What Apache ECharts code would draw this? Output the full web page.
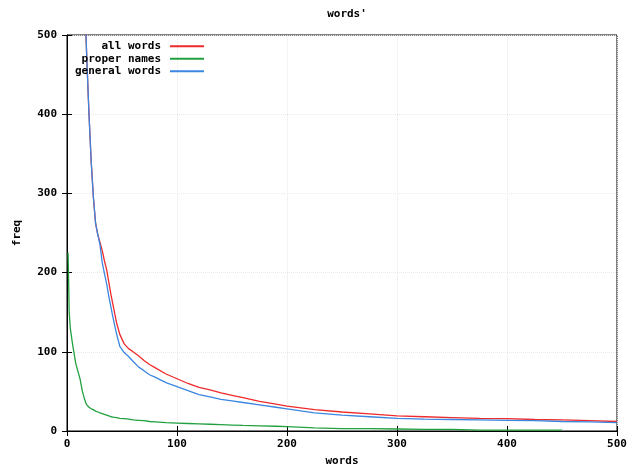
<!DOCTYPE html>
<html>
<head>
<meta charset="utf-8">
<script src="https://cdn.jsdelivr.net/npm/echarts@6/dist/echarts.min.js"></script>
<style>html,body{margin:0;padding:0;background:#fff;}#c{width:632px;height:472px;}</style>
</head>
<body>
<div id="c"></div>
<script>
const ranks = [1,2,3,5,8,10,12,14,16,17,18,20,22,24,26,28,30,32,34,36,38,40,42,45,48,52,56,60,65,70,75,80,90,100,110,120,130,140,150,160,175,190,200,225,250,275,300,325,350,375,400,425,450,475,500];
const allWords = [3000,2000,1500,1100,850,750,680,610,540,510,470,400,340,295,262,248,238,228,215,204,188,172,158,137,122,110,104,100,95,89,84,80,72,66,60,55,52,48,45,42,37.5,34,31.5,27,24,21.5,19,18,17,16,15.5,14.5,14,13,12];
const properNames = [225,150,130,110,85,75,65,50,40,36,33,30,28,27,25,24,23,22,21,20,19,18,17.5,17,16,15.5,15,14,13.5,13,12,11.5,10.5,10,9.5,9,8.5,8,7.5,7,6.5,6,5.5,4,3,3,2.5,2,2,1,1,1,1,null,null];
const generalWords = [3000,2000,1500,1100,850,750,680,610,540,510,470,400,340,295,262,248,235,213,199,186,170,156,142,123,107,99,94,88,81,76,71,68,61,56,51,46,43,40,38,36,33,30,28,23,20,18,16,15,14.5,14,13.5,13,12,11.5,10.5];
const xTicks = [0,100,200,300,400,500];
const yTicks = [0,100,200,300,400,500];
const seriesNames = ['all words','proper names','general words'];

const pairs = vals => ranks.map((r,i)=>[r, vals[i]]);
const font = 'DejaVu Sans Mono';
const chart = echarts.init(document.getElementById('c'));
chart.setOption({
  animation:false,
  backgroundColor:'#fff',
  title:{text:"words'", left:342, top:4, textAlign:'center',
    textStyle:{fontFamily:font, fontWeight:'bold', fontSize:11, color:'#000'}},
  legend:{orient:'vertical', left:62, top:35, align:'right', itemWidth:34, itemHeight:2, itemGap:0,
    icon:'rect',
    textStyle:{fontFamily:font, fontWeight:'bold', fontSize:11, lineHeight:12.5, color:'#000', width:94, align:'right', padding:[0,4,0,0]},
    data:seriesNames},
  grid:{left:67, right:15, top:35, bottom:37, show:true, borderColor:'#000', borderWidth:1},
  xAxis:[{type:'value', min:0, max:500, interval:100, position:'bottom',
    name:'words', nameLocation:'middle', nameGap:25,
    nameTextStyle:{fontFamily:font, fontWeight:'bold', fontSize:11, color:'#000'},
    axisLine:{lineStyle:{color:'#000'}},
    axisTick:{inside:true, length:5, lineStyle:{color:'#000'}},
    axisLabel:{fontFamily:font, fontWeight:'bold', fontSize:11, color:'#000', margin:8},
    splitLine:{show:true, lineStyle:{color:'#e8e8e8', type:'dotted'}}},
   {type:'value', min:0, max:500, interval:100, position:'top',
    axisLine:{show:false}, axisTick:{inside:true, length:5, lineStyle:{color:'#000'}},
    axisLabel:{show:false}, splitLine:{show:false}}],
  yAxis:[{type:'value', min:0, max:500, interval:100, position:'left',
    name:'freq', nameLocation:'middle', nameGap:44, nameRotate:90,
    nameTextStyle:{fontFamily:font, fontWeight:'bold', fontSize:11, color:'#000'},
    axisLine:{show:true, lineStyle:{color:'#000'}},
    axisTick:{show:true, inside:true, length:5, lineStyle:{color:'#000'}},
    axisLabel:{fontFamily:font, fontWeight:'bold', fontSize:11, color:'#000', margin:10},
    splitLine:{show:true, lineStyle:{color:'#e8e8e8', type:'dotted'}}},
   {type:'value', min:0, max:500, interval:100, position:'right',
    axisLine:{show:false}, axisTick:{show:true, inside:true, length:5, lineStyle:{color:'#000'}},
    axisLabel:{show:false}, splitLine:{show:false}}],
  series:[
    {name:seriesNames[0], type:'line', data:pairs(allWords), showSymbol:false, symbol:'none', clip:true,
     lineStyle:{color:'#ee2a2a', width:1.3}, itemStyle:{color:'#ee2a2a'}},
    {name:seriesNames[1], type:'line', data:pairs(properNames), showSymbol:false, symbol:'none', clip:true,
     lineStyle:{color:'#22a040', width:1.3}, itemStyle:{color:'#22a040'}},
    {name:seriesNames[2], type:'line', data:pairs(generalWords), showSymbol:false, symbol:'none', clip:true,
     lineStyle:{color:'#3a86e0', width:1.3}, itemStyle:{color:'#3a86e0'}}
  ]
});
</script>
</body>
</html>
